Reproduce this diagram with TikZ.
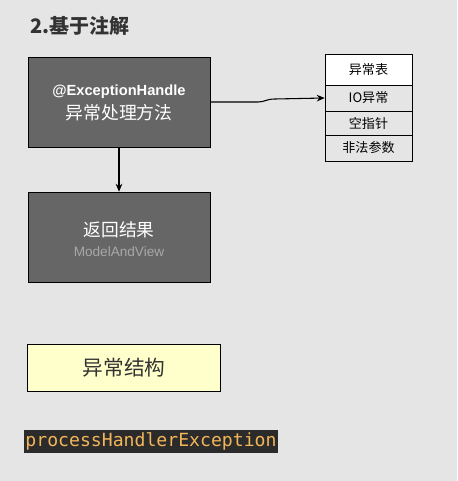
\documentclass[tikz,border=0pt]{standalone}
\usepackage{fontspec}
\setmainfont{Liberation Sans}
\newfontfamily\cjk{Noto Sans CJK SC}
\newfontfamily\codefont{DejaVu Sans Mono}
\usetikzlibrary{arrows.meta}
\definecolor{bgGray}{HTML}{E5E5E5}
\definecolor{boxGray}{HTML}{666666}
\definecolor{titleGray}{HTML}{333333}
\definecolor{subGray}{HTML}{A8A8A8}
\definecolor{noteYellow}{HTML}{FFFFCC}
\definecolor{codeBg}{HTML}{2B2B2B}
\definecolor{codeFg}{HTML}{F2B55A}
\tikzset{
  darkbox/.style={draw=black, fill=boxGray, text=white, minimum width=136.5pt, minimum height=67.5pt, align=center, inner sep=0pt},
  tablerow/.style={draw=black, fill=bgGray, minimum width=65.25pt, inner sep=0pt, font=\cjk\fontsize{9.8pt}{11pt}\selectfont},
  conn/.style={draw=black, line width=0.8pt, -{Stealth[length=6pt,width=5pt]}}
}
\begin{document}
\begin{tikzpicture}[x=0.75pt,y=0.75pt,yscale=-1,xscale=1]
%Background
\fill [bgGray] (0,0) rectangle (457,481);
\useasboundingbox (0,0) rectangle (457,481);
% Text Node
\node (title) [anchor=west, inner sep=0pt, text=titleGray, font=\cjk\bfseries\fontsize{15pt}{17pt}\selectfont] at (30,26) {2.基于注解};
%Shape: Rectangle
\node (handler) [darkbox] at (119,102) {};
\node (handlerA) [text=white, inner sep=0pt, font=\bfseries\fontsize{11pt}{13pt}\selectfont] at (119,92) {@ExceptionHandle};
\node (handlerB) [text=white, inner sep=0pt, font=\cjk\fontsize{13.4pt}{15pt}\selectfont] at (119,113) {异常处理方法};
%Shape: Rectangle
\node (result) [darkbox] at (119,237) {};
\node (resultA) [text=white, inner sep=0pt, font=\cjk\fontsize{13.3pt}{15pt}\selectfont] at (119,230) {返回结果};
\node (resultB) [text=subGray, inner sep=0pt, font=\fontsize{10.2pt}{12pt}\selectfont] at (119,252) {ModelAndView};
%Exception table
\node (rowHead) [tablerow, fill=white, minimum height=23.25pt] at (368.5,69.5) {异常表};
\node (rowIO) [tablerow, minimum height=19.5pt] at (368.5,98) {IO异常};
\node (rowNull) [tablerow, minimum height=18pt] at (368.5,123) {空指针};
\node (rowArg) [tablerow, minimum height=19.5pt] at (368.5,148) {非法参数};
%Straight Lines
\draw [conn] (handler.south) -- (result.north);
%Curve Lines
\draw [conn] (handler.east) -- (258,102) .. controls (265,102) and (266,99) .. (275,99) -- (rowIO.west);
%Shape: Rectangle
\node (structure) [draw=black, fill=noteYellow, text=titleGray, minimum width=144.75pt, minimum height=35.25pt, inner sep=0pt, font=\cjk\fontsize{15.5pt}{17pt}\selectfont] at (124,367.5) {异常结构};
% Text Node
\node (method) [fill=codeBg, text=codeFg, minimum height=17pt, inner xsep=1pt, inner ysep=0pt, font=\codefont\fontsize{13.6pt}{15pt}\selectfont] at (151,441.5) {processHandlerException};
\end{tikzpicture}
\end{document}
